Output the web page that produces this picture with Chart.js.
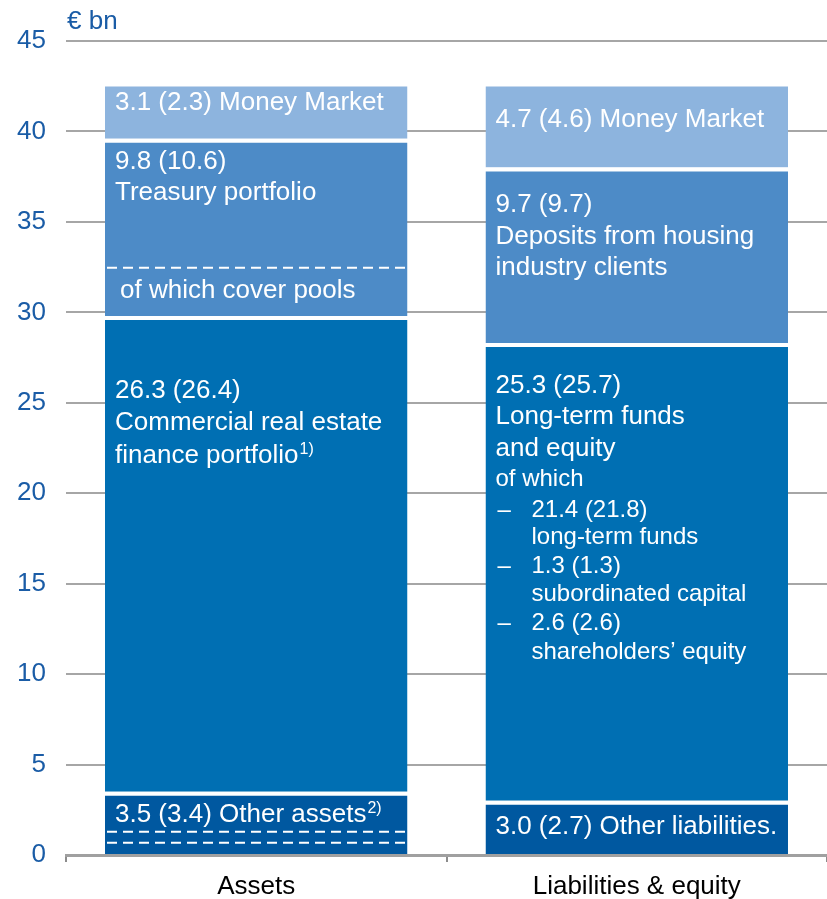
<!DOCTYPE html>
<html>
<head>
<meta charset="utf-8">
<script src="https://cdn.jsdelivr.net/npm/chart.js@4.4.1/dist/chart.umd.min.js"></script>
<style>
  body { margin: 0; background: #fff; }
  #wrap { width: 827px; height: 899px; }
</style>
</head>
<body>
<div id="wrap"><canvas id="bs" width="827" height="899"></canvas></div>
<script>
// balance sheet structure, € bn
let categories = ["Assets", "Liabilities & equity"];
let otherItems = [3.5, 3.0];
let coreItems = [26.3, 25.3];
let middleItems = [9.8, 9.7];
let moneyMarket = [3.1, 4.7];
let yTicks = [0, 5, 10, 15, 20, 25, 30, 35, 40, 45];

let blueText = "#1a5ca6";
let colors = ["#0058a0", "#006fb3", "#4d8bc7", "#8db4de"];

// text inside each segment: [dataset][category] -> lines
// each line: [text, offset from segment top, x indent, font size, superscript]
let segText = [
  [
    [["3.5 (3.4) Other assets", 23, 0, 26, "2)"]],
    [["3.0 (2.7) Other liabilities.", 26, 0, 26]]
  ],
  [
    [["26.3 (26.4)", 75, 0, 26], ["Commercial real estate", 107, 0, 26], ["finance portfolio", 140, 0, 26, "1)"]],
    [["25.3 (25.7)", 43, 0, 26], ["Long-term funds", 74, 0, 26], ["and equity", 106, 0, 26],
     ["of which", 136, 0, 24],
     ["\u2013", 167, 2, 24], ["21.4 (21.8)", 167, 36, 24], ["long-term funds", 194, 36, 24],
     ["\u2013", 223, 2, 24], ["1.3 (1.3)", 223, 36, 24], ["subordinated capital", 251, 36, 24],
     ["\u2013", 280, 2, 24], ["2.6 (2.6)", 280, 36, 24], ["shareholders\u2019 equity", 309, 36, 24]]
  ],
  [
    [["9.8 (10.6)", 23, 0, 26], ["Treasury portfolio", 54, 0, 26], ["of which cover pools", 152, 5, 26]],
    [["9.7 (9.7)", 37, 0, 26], ["Deposits from housing", 69, 0, 26], ["industry clients", 100, 0, 26]]
  ],
  [
    [["3.1 (2.3) Money Market", 20, 0, 26]],
    [["4.7 (4.6) Money Market", 37, 0, 26]]
  ]
];

// dashed separators: [dataset, category, offset from segment top]
let dashes = [[2, 0, 129], [0, 0, 40], [0, 0, 51]];

let segPlugin = {
  id: "segPlugin",
  afterDatasetsDraw(chart) {
    let ctx = chart.ctx;
    ctx.save();
    ctx.fillStyle = "#fff";
    ctx.textBaseline = "middle";
    ctx.textAlign = "left";
    segText.forEach(function(perCat, d) {
      let meta = chart.getDatasetMeta(d);
      perCat.forEach(function(lines, i) {
        let bar = meta.data[i];
        let left = bar.x - bar.width / 2 + 10;
        lines.forEach(function(l) {
          ctx.font = l[3] + "px 'Liberation Sans', Arial, sans-serif";
          let y = bar.y + l[1];
          ctx.fillText(l[0], left + l[2], y);
          if (l[4]) {
            let w = ctx.measureText(l[0]).width;
            ctx.font = "16px 'Liberation Sans', Arial, sans-serif";
            ctx.fillText(l[4], left + l[2] + w + 1, y - 6);
          }
        });
      });
    });
    ctx.strokeStyle = "#fff";
    ctx.lineWidth = 2;
    ctx.setLineDash([10, 6]);
    dashes.forEach(function(dd) {
      let bar = chart.getDatasetMeta(dd[0]).data[dd[1]];
      let y = bar.y + dd[2];
      ctx.beginPath();
      ctx.moveTo(bar.x - bar.width / 2 + 2, y);
      ctx.lineTo(bar.x + bar.width / 2, y);
      ctx.stroke();
    });
    ctx.setLineDash([]);
    // unit label
    ctx.fillStyle = blueText;
    ctx.font = "26px 'Liberation Sans', Arial, sans-serif";
    ctx.fillText("\u20ac bn", chart.chartArea.left + 1, chart.chartArea.top - 19);
    ctx.restore();
  }
};

let series = [otherItems, coreItems, middleItems, moneyMarket];
let bs = new Chart(document.getElementById("bs"), {
  type: "bar",
  data: {
    labels: categories,
    datasets: series.map(function(vals, k) {
      return {
        data: vals,
        backgroundColor: colors[k],
        borderColor: "#fff",
        borderWidth: {top: 4, left: 0, right: 0, bottom: 0},
        borderSkipped: false,
        categoryPercentage: 1,
        barPercentage: 0.795
      };
    })
  },
  options: {
    responsive: false,
    animation: false,
    layout: {padding: {top: 41, left: 0, right: 0, bottom: 0}},
    plugins: {legend: {display: false}, tooltip: {enabled: false}},
    scales: {
      x: {
        stacked: true,
        afterFit: function(axis) { axis.height = 44; },
        grid: {display: true, drawOnChartArea: false, drawTicks: true, tickLength: 7, color: "#8c8c8c", lineWidth: 2, offset: true},
        border: {display: true, color: "#a0a0a0", width: 3},
        ticks: {color: "#000", font: {size: 26, family: "'Liberation Sans', Arial, sans-serif"}, padding: 9}
      },
      y: {
        stacked: true,
        min: 0,
        max: 45,
        afterBuildTicks: function(axis) { axis.ticks = yTicks.map(function(v) { return {value: v}; }); },
        afterFit: function(axis) { axis.width = 66; },
        grid: {color: "#a6a6a6", lineWidth: 2, drawTicks: false},
        border: {display: false},
        ticks: {color: blueText, font: {size: 26, family: "'Liberation Sans', Arial, sans-serif"}, padding: 20}
      }
    }
  },
  plugins: [segPlugin]
});
</script>
</body>
</html>
